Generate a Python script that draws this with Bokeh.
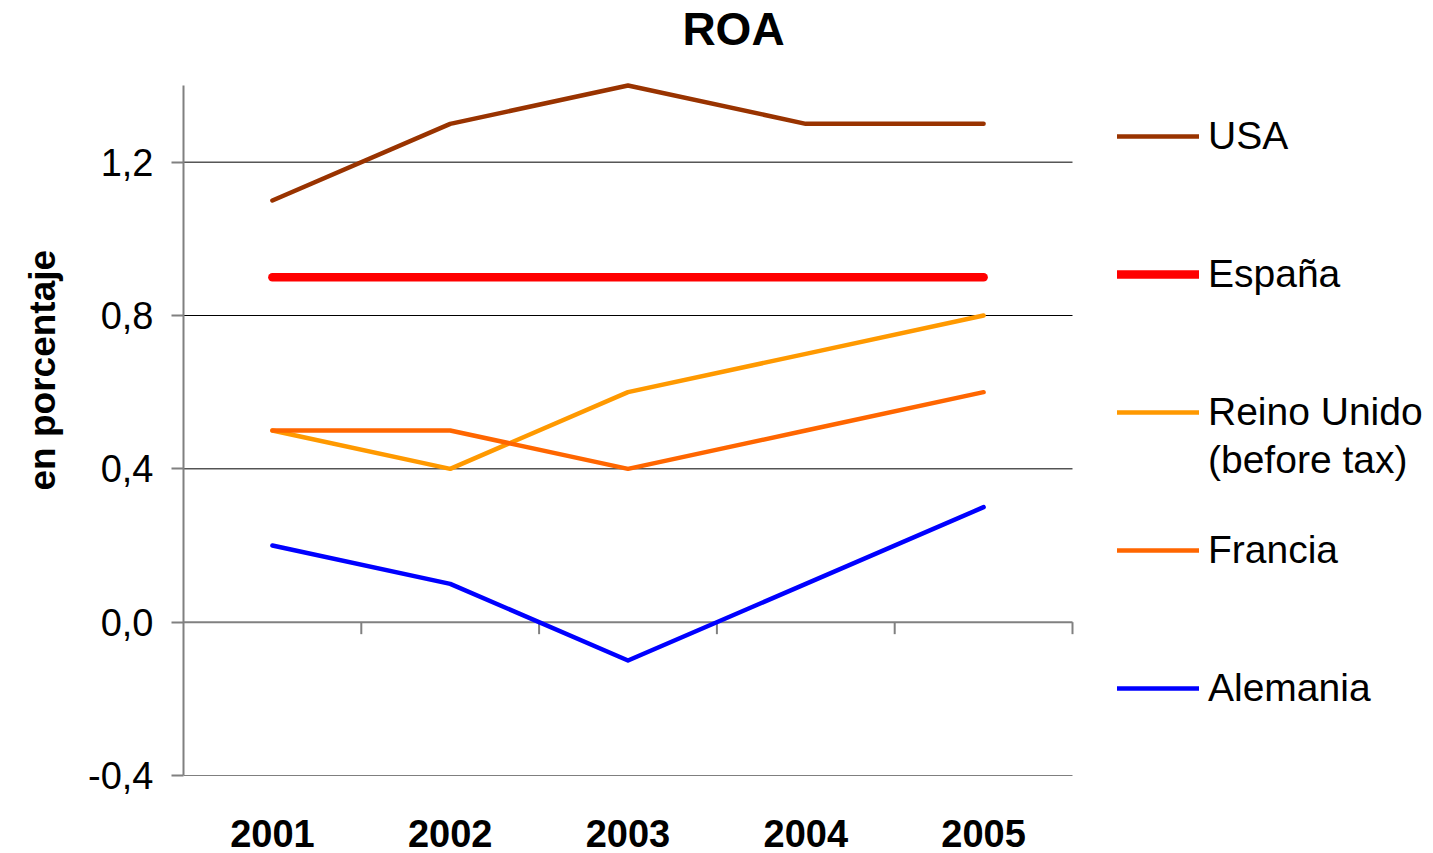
from bokeh.plotting import figure
from bokeh.models import (Range1d, FixedTicker, CustomJSTickFormatter, Legend,
                          LegendItem, Title, Label)
from bokeh.embed import file_html
from bokeh.resources import INLINE

years = ["2001", "2002", "2003", "2004", "2005"]
usa = [1.1, 1.3, 1.4, 1.3, 1.3]
espana = [0.9, 0.9, 0.9, 0.9, 0.9]
reino_unido = [0.5, 0.4, 0.6, 0.7, 0.8]
francia = [0.5, 0.5, 0.4, 0.5, 0.6]
alemania = [0.2, 0.1, -0.1, 0.1, 0.3]
y_ticks = [-0.4, 0.0, 0.4, 0.8, 1.2]
grid_values = [-0.4, 0.4, 0.8, 1.2]
y_min, y_max = -0.4, 1.4

FONT = "Liberation Sans"
W, H = 1433, 853
LEFT, BOTTOM = 183, 78
PLOT_TOP = 85                      # pixel row of the top of the value area
PLOT_W, PLOT_H = 889, 690          # pixel size of the value area
n = len(years)
xpos = [i + 0.5 for i in range(n)]
# frame extends to the right edge (legend) and to the top edge (title)
x_end = n * (W - LEFT) / PLOT_W
y_per_px = (y_max - y_min) / PLOT_H
y_end = y_max + PLOT_TOP * y_per_px

p = figure(width=W, height=H, output_backend="svg", toolbar_location=None,
           title_location=None,
           x_range=Range1d(0, x_end), y_range=Range1d(y_min, y_end),
           min_border_left=LEFT, min_border_right=0, min_border_top=0,
           min_border_bottom=BOTTOM)
p.outline_line_color = None
p.background_fill_color = "white"

# title (inside the extended frame)
p.add_layout(Label(x=(733 - LEFT) * n / PLOT_W, y=y_max + (PLOT_TOP - 28) * y_per_px,
                   text="ROA", text_font=FONT, text_font_size="46px",
                   text_font_style="bold", text_color="black",
                   text_align="center", text_baseline="alphabetic"))

# y axis
p.yaxis.ticker = FixedTicker(ticks=y_ticks)
p.yaxis.bounds = (y_min, y_max)
p.yaxis.formatter = CustomJSTickFormatter(code="return tick.toFixed(1).replace('.', ',')")
p.yaxis.axis_line_color = "#808080"
p.yaxis.axis_line_width = 2
p.yaxis.major_tick_line_color = "#808080"
p.yaxis.major_tick_line_width = 2
p.yaxis.major_tick_out = 12
p.yaxis.major_tick_in = 0
p.yaxis.minor_tick_line_color = None
p.yaxis.major_label_text_font = FONT
p.yaxis.major_label_text_font_size = "38px"
p.yaxis.major_label_text_color = "black"
p.yaxis.major_label_standoff = 18

ytitle = Title(text="en porcentaje", align="left", offset=285, standoff=42,
               vertical_align="top",
               text_font=FONT, text_font_size="37px", text_font_style="bold",
               text_color="black")
p.add_layout(ytitle, "left")

# x axis labels (bottom)
p.xaxis.ticker = FixedTicker(ticks=xpos)
p.xaxis.formatter = CustomJSTickFormatter(args=dict(years=years),
                                          code="return years[Math.floor(tick)]")
p.xaxis.axis_line_color = None
p.xaxis.major_tick_line_color = None
p.xaxis.minor_tick_line_color = None
p.xaxis.major_label_text_font = FONT
p.xaxis.major_label_text_font_size = "38px"
p.xaxis.major_label_text_font_style = "bold"
p.xaxis.major_label_text_color = "black"
p.xaxis.major_label_standoff = 38

# grid (limited to the category area)
p.xgrid.grid_line_color = None
p.ygrid.grid_line_color = None
p.segment(x0=[0] * len(grid_values), x1=[n] * len(grid_values),
          y0=grid_values, y1=grid_values, line_color="black", line_width=1)

# zero axis line with category boundary ticks
p.segment(x0=[0], x1=[n], y0=[0], y1=[0], line_color="#808080", line_width=2)
bounds = list(range(1, n + 1))
p.segment(x0=bounds, x1=bounds, y0=[0] * len(bounds), y1=[-12 * y_per_px] * len(bounds),
          line_color="#808080", line_width=2)

series = [
    ("USA", usa, "#993300", 4.5),
    ("España", espana, "#FF0000", 8.5),
    ("Reino Unido", reino_unido, "#FF9900", 4.5),
    ("Francia", francia, "#FF6600", 4.5),
    ("Alemania", alemania, "#0000FF", 4.5),
]
draw_order = [1, 0, 2, 3, 4]
renderers = {}
for idx in draw_order:
    name, vals, color, lw = series[idx]
    renderers[idx] = p.line(xpos, vals, line_color=color, line_width=lw,
                            line_cap="round", line_join="round")
items = [LegendItem(label=s[0], renderers=[renderers[i]]) for i, s in enumerate(series)]

# invisible companion line for the second row of the "Reino Unido" label
ghost = p.line(xpos, reino_unido, line_alpha=0)


def style_legend(lg):
    lg.border_line_color = None
    lg.background_fill_alpha = 0
    lg.padding = 0
    lg.margin = 0
    lg.glyph_width = 82
    lg.glyph_height = 40
    lg.label_standoff = 9
    lg.label_text_font = FONT
    lg.label_text_font_size = "39px"
    lg.label_text_color = "black"


legend = Legend(items=items, orientation="vertical")
style_legend(legend)
legend.spacing = 37
legend.label_height = 101
legend.location = (934, 37)
p.add_layout(legend, "center")

legend2 = Legend(items=[LegendItem(label="(before tax)", renderers=[ghost])],
                 orientation="vertical")
style_legend(legend2)
legend2.label_height = 50
legend2.location = (934, 290)
p.add_layout(legend2, "center")

open("out.html", "w").write(file_html(p, INLINE))
